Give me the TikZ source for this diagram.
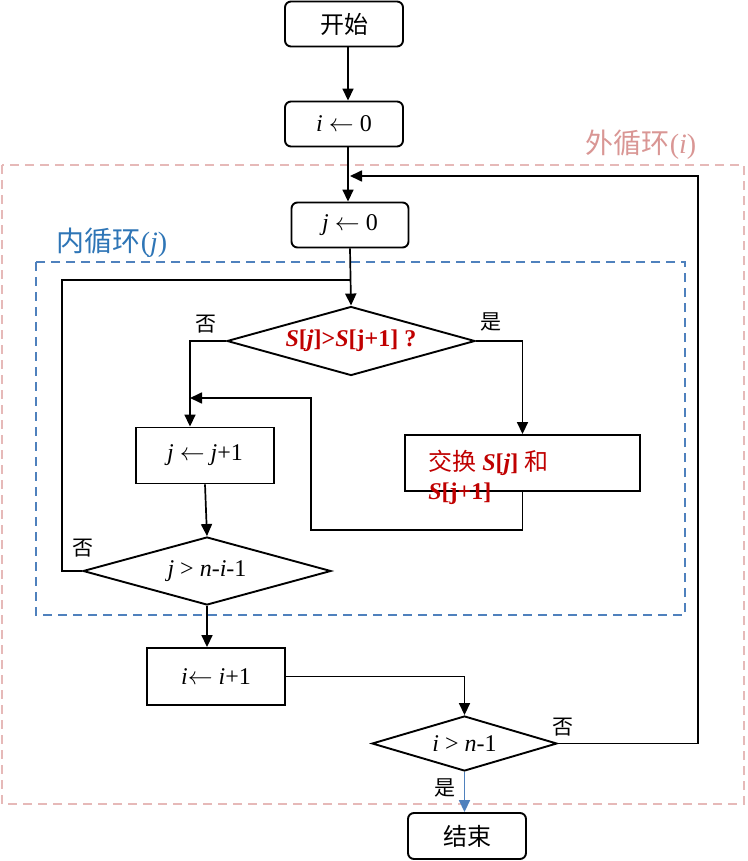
\documentclass[tikz,border=0pt]{standalone}
\usepackage{fontspec}
\setmainfont{Liberation Serif}
\newfontfamily\cjk{Noto Sans CJK SC}
\usepackage{tikz}
\usetikzlibrary{arrows.meta,positioning,shapes.geometric}
\definecolor{fcRed}{HTML}{C00000}
\definecolor{fcBlue}{HTML}{4F81BD}
\definecolor{fcLabelBlue}{HTML}{2E75B6}
\definecolor{fcPink}{HTML}{E6B9B8}
\definecolor{fcRose}{HTML}{D99694}
\tikzset{
  flow text/.style={font=\fontsize{24}{28}\selectfont},
  flow box/.style={flow text,draw,line width=1.9pt,inner sep=0pt,fill=white},
  terminal/.style={flow box,rounded corners=6pt,minimum width=118pt,minimum height=45pt},
  process/.style={flow box,minimum width=138pt,minimum height=56pt},
  decision/.style={flow box,diamond,aspect=3.6,minimum width=248pt,minimum height=69pt},
  answer/.style={font=\fontsize{21}{24}\selectfont\cjk,inner sep=0pt},
  frame label/.style={font=\fontsize{28}{32}\selectfont,inner sep=0pt},
  loop frame/.style={dash pattern=on 9pt off 6pt,line width=1.5pt},
  flow line/.style={line width=1.7pt},
  flow arrow/.style={flow line,-{Triangle[length=12pt,width=11pt]}}
}

\begin{document}
\begin{tikzpicture}[x=1pt,y=-1pt]
\useasboundingbox (0,0) rectangle (747,861);
% loop frames
\draw[loop frame,draw=fcPink] (2,165) rectangle (744,804);
\draw[loop frame,draw=fcBlue] (36,262) rectangle (685,615);
\node[frame label,text=fcRose] (outer label) at (641,145) {{\cjk 外循环}(\textit{i})};
\node[frame label,text=fcLabelBlue] (inner label) at (112,243) {{\cjk 内循环}(\textit{j})};
% steps
\node[terminal] (start) at (344,24) {\cjk 开始};
\node[terminal] (initi) at (344,124) {\textit{i} $\leftarrow$ 0};
\node[terminal,minimum width=117pt] (initj) at (350,225) {\textit{j} $\leftarrow$ 0};
\node[decision] (test1) at (351,341) {\textcolor{fcRed}{\bfseries\textit{S}[\textit{j}]>\textit{S}[j+1] ?}};
\node[process] (inc) at (205,455.5) {\textit{j} $\leftarrow$ \textit{j}+1};
\node[process,minimum width=235pt] (swap) at (522.5,463) {};
\node[flow text,text=fcRed,align=left,inner sep=0pt,anchor=north west,
  font=\fontsize{24}{29}\selectfont] (swap text) at ([xshift=24pt,yshift=-16pt]swap.north west)
  {{\cjk 交换} \textbf{\textit{S}[\textit{j}]} {\cjk 和}\\\textbf{\textit{S}[j+1]}};
\node[decision,minimum height=68pt] (test2) at (207,571) {\textit{j} > \textit{n}-\textit{i}-1};
\node[process,minimum height=57pt] (inci) at (216,676.5) {\textit{i}$\leftarrow$ \textit{i}+1};
\node[decision,aspect=3.4,minimum width=185pt,minimum height=55pt] (test3) at (464.5,743.5) {\textit{i} > \textit{n}-1};
\node[terminal,minimum height=46pt] (stop) at (467,836) {\cjk 结束};
% answers
\node[answer] (no1) at ([xshift=-20pt,yshift=17pt]test1.west) {否};
\node[answer] (yes1) at ([xshift=15pt,yshift=19pt]test1.east) {是};
\node[answer] (no2) at ([xshift=1pt,yshift=23pt]test2.west) {否};
\node[answer] (no3) at ([xshift=5pt,yshift=16pt]test3.east) {否};
\node[answer] (yes3) at ([xshift=-20pt,yshift=-16pt]test3.south) {是};
% turning points
\coordinate (outer back) at (698,176);
\coordinate (inner back) at (62,280);
\coordinate (swap back) at (311,530);
\coordinate (merge j) at (190,398);
% connectors
\draw[flow arrow] ([xshift=4pt]start.south) -- ([xshift=4pt]initi.north);
\draw[flow arrow] ([xshift=4pt]initi.south) -- ([xshift=-2pt]initj.north);
\draw[flow arrow] (test3.east) -| (outer back) -- (outer back -| initj.north);
\draw[flow arrow] (initj.south) -- (test1.north);
\draw[flow line] (test2.west) -| (inner back) -- (inner back -| test1.north);
\draw[flow arrow] (test1.west) -| ([xshift=-15pt]inc.north);
\draw[flow arrow] (test1.east) -| (swap.north);
\draw[flow arrow] (swap.south) |- (swap back) |- (merge j);
\draw[flow arrow] (inc.south) -- (test2.north);
\draw[flow arrow] (test2.south) -- (test2.south |- inci.north);
\draw[flow arrow] (inci.east) -| (test3.north);
\draw[flow arrow,draw=fcBlue,fill=fcBlue] (test3.south) -- (test3.south |- stop.north);
\end{tikzpicture}
\end{document}
